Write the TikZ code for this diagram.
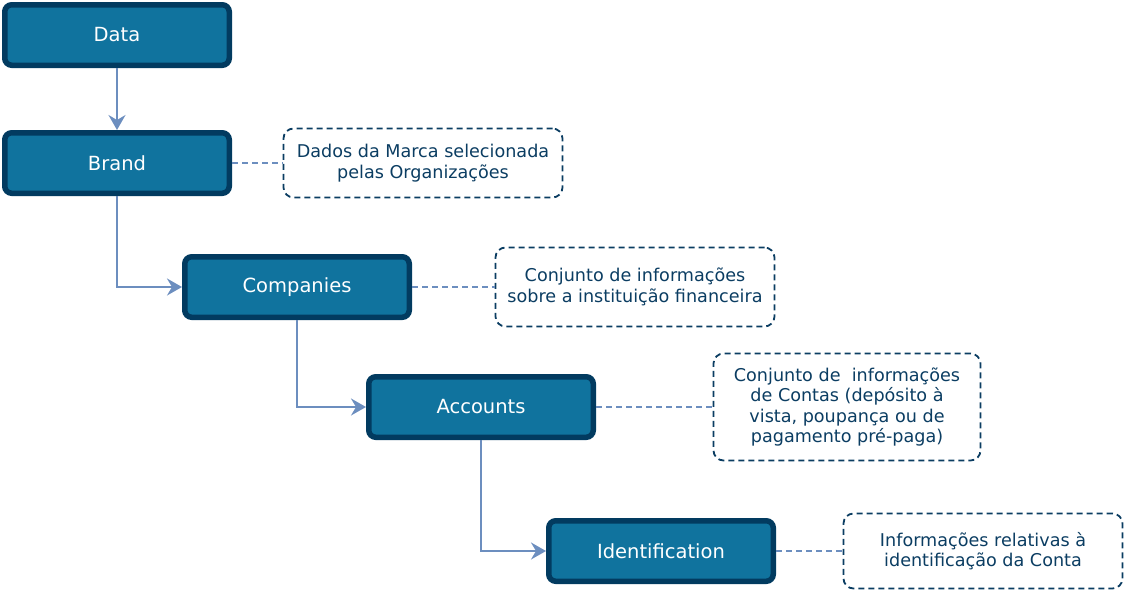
\documentclass[tikz,border=0pt]{standalone}
\usepackage{fontspec}
\setmainfont{DejaVu Sans}
\usetikzlibrary{arrows.meta}
\definecolor{boxfill}{HTML}{10739E}
\definecolor{boxline}{HTML}{023B60}
\definecolor{notecol}{HTML}{0B3D62}
\definecolor{linkcol}{HTML}{6C8EBF}
\tikzset{
  entity/.style={draw=boxline, fill=boxfill, line width=5.5pt, rounded corners=7pt,
    minimum width=224.5pt, minimum height=60.5pt, text=white, inner sep=0pt,
    font=\fontsize{19.5}{22}\selectfont},
  note/.style={draw=notecol, dash pattern=on 6pt off 4pt, line width=1.8pt, rounded corners=10pt,
    minimum width=279pt, inner sep=0pt, text=notecol, align=center,
    font=\fontsize{17.6}{20.5}\selectfont},
  link/.style={draw=linkcol, line width=1.8pt, -{Stealth[length=15pt,width=17pt,inset=5pt]}},
  dlink/.style={draw=linkcol, line width=1.8pt, dash pattern=on 6pt off 4pt}
}
\begin{document}
\begin{tikzpicture}[x=1pt,y=-1pt]
\useasboundingbox (0,0) rectangle (1124,590);
\node[entity] (data) at (117,35) {Data};
\node[entity] (brand) at (117,163) {Brand};
\node[entity] (comp) at (297,287) {Companies};
\node[entity] (acc) at (481,407) {Accounts};
\node[entity] (ident) at (661,551) {Identification};

\node[note, minimum height=69pt] (n1) at (423,163) {Dados da Marca selecionada\\pelas Organizações};
\node[note, minimum height=79pt] (n2) at (635,287) {Conjunto de informações\\sobre a instituição financeira};
\node[note, minimum width=267pt, minimum height=107pt] (n3) at (847,407) {Conjunto de~ informações\\de Contas (depósito à\\vista, poupança ou de\\pagamento pré-paga)};
\node[note, minimum height=75pt] (n4) at (983,551) {Informações relativas à\\identificação da Conta};

\draw[link] (data.south) -- (brand.north);
\draw[link] (brand.south) |- (comp.west);
\draw[link] (comp.south) |- (acc.west);
\draw[link] (acc.south) |- (ident.west);

\draw[dlink] (brand.east) -- (n1.west);
\draw[dlink] (comp.east) -- (n2.west);
\draw[dlink] (acc.east) -- (n3.west);
\draw[dlink] (ident.east) -- (n4.west);
\end{tikzpicture}
\end{document}
